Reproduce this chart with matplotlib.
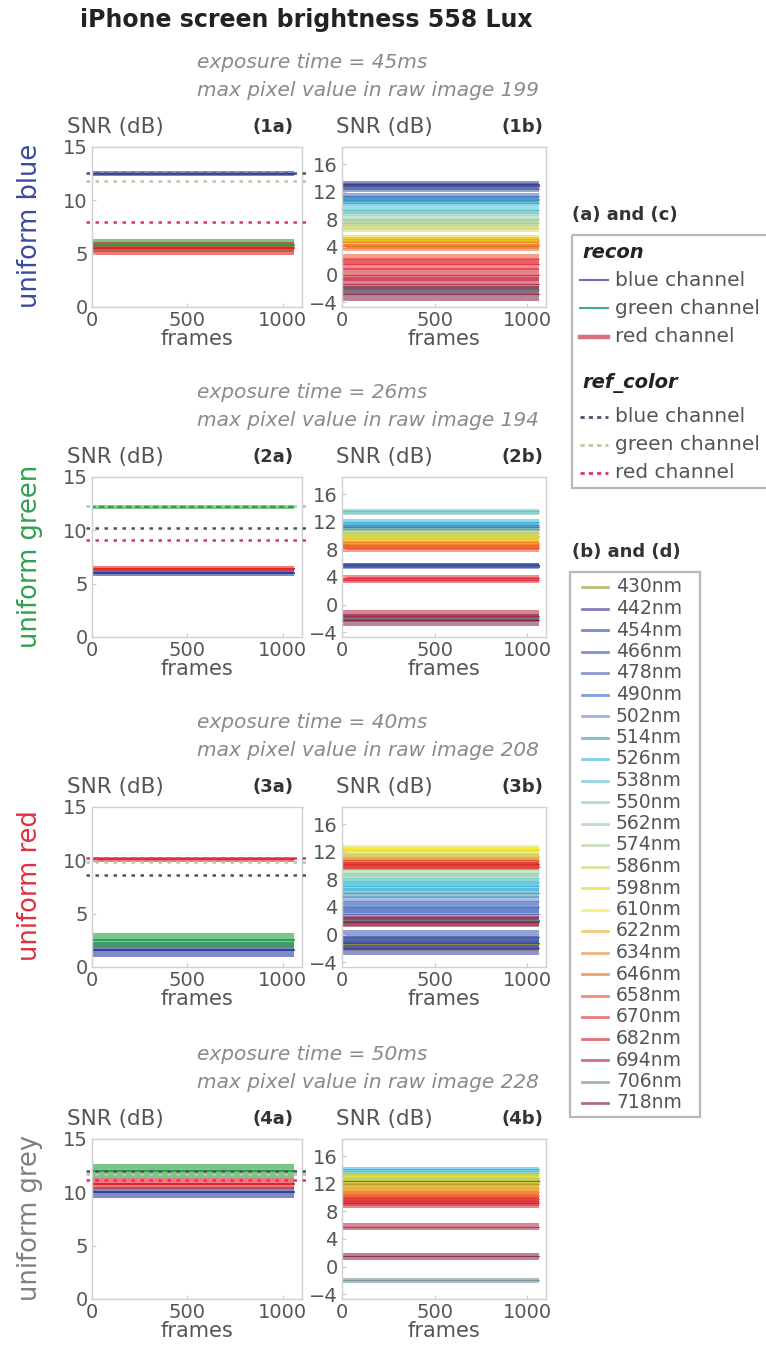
import matplotlib
matplotlib.use('Agg')
import matplotlib.pyplot as plt
from matplotlib.patches import Rectangle

W, H = 766, 1350

# recording setup for each displayed scene
scenes = ['uniform blue', 'uniform green', 'uniform red', 'uniform grey']
scene_colors = ['#3a4aa0', '#2fa050', '#e03040', '#808080']
exposure_ms = [45, 26, 40, 50]
max_pixel = [199, 194, 208, 228]

frames = [1, 1060]          # first and last frame of each recording
ref_span = [-30, 1130]      # reference levels are drawn a bit past the axes

# (a) panels: reconstructed RGB SNR (mean level and noise half-width, dB)
recon_blue = [12.5, 6.0, 1.6, 10.0]
recon_green = [5.8, 12.2, 2.5, 12.0]
recon_red = [5.5, 6.4, 10.1, 10.8]
recon_blue_spread = [0.25, 0.3, 0.7, 0.5]
recon_green_spread = [0.6, 0.2, 0.7, 0.65]
recon_red_spread = [0.6, 0.3, 0.25, 0.5]

# (a) panels: SNR of the colour reference
ref_blue = [12.6, 10.2, 8.6, 12.0]
ref_green = [11.8, 12.3, 9.8, 11.7]
ref_red = [8.0, 9.1, 10.2, 11.2]

recon_colors = ['#2a3a9a', '#20a040', '#e02020']
legend_recon_colors = ['#6a6ab8', '#40b088', '#d87080']
ref_colors = ['#505068', '#b8c8a0', '#e03070']

# (b) panels: per-wavelength SNR
wavelengths = [430, 442, 454, 466, 478, 490, 502, 514, 526, 538, 550, 562, 574,
               586, 598, 610, 622, 634, 646, 658, 670, 682, 694, 706, 718]
band_colors = ['#9a9a30', '#3a3a98', '#3848a8', '#3c58b4', '#5060b0', '#3a6cc4',
               '#6a88d0', '#3898b8', '#38b4e0', '#58c4d4', '#80ccc0', '#98d0a0',
               '#b0cc98', '#c8d470', '#e0d818', '#f0e838', '#f0b030', '#f08830',
               '#f06820', '#e85030', '#e83040', '#d82030', '#b82040', '#6a8a90',
               '#802040']

snr_blue = [12.8, 13.2, 13.0, 12.8, 12.4, 11.4, 11.0, 10.8, 10.4, 9.4, 9.0, 8.0, 7.5,
            6.8, 5.0, 4.6, 4.8, 4.4, 4.2, 2.2, 1.5, 0.0, -1.4, -2.2, -2.8]
spread_blue = [0.35, 0.35, 0.35, 0.35, 0.4, 0.45, 0.45, 0.5, 0.5, 0.55, 0.55, 0.6, 0.6,
               0.65, 0.7, 0.7, 0.7, 0.75, 0.75, 0.85, 0.9, 0.95, 1.0, 0.6, 1.1]
snr_green = [5.6, 5.8, 5.7, 5.6, 5.5, 11.2, 11.0, 11.6, 12.0, 13.5, 13.3, 10.8, 10.4,
             10.0, 9.8, 9.4, 9.0, 8.8, 8.5, 8.2, 3.9, 3.6, -1.6, -2.0, -2.2]
spread_green = [0.3, 0.3, 0.3, 0.3, 0.3, 0.4, 0.4, 0.4, 0.4, 0.35, 0.35, 0.45, 0.5,
                0.5, 0.55, 0.55, 0.6, 0.6, 0.6, 0.6, 0.4, 0.45, 0.8, 0.5, 0.9]
snr_red = [-1.4, -2.0, -1.2, -0.4, 3.0, 4.0, 4.8, 6.0, 7.0, 7.6, 8.2, 9.0, 10.6,
           11.4, 12.2, 12.5, 11.2, 10.6, 10.3, 10.0, 9.8, 10.3, 2.0, 2.1, 1.8]
spread_red = [1.0, 1.0, 1.0, 1.0, 0.8, 0.8, 0.8, 0.7, 0.7, 0.65, 0.6, 0.6, 0.55,
              0.5, 0.45, 0.45, 0.5, 0.5, 0.5, 0.5, 0.5, 0.5, 0.7, 0.4, 0.7]
snr_grey = [12.0, 12.2, 12.3, 12.4, 12.4, 12.5, 12.6, 12.8, 14.1, 13.9, 13.6, 12.9, 12.8,
            12.8, 12.6, 12.2, 11.4, 10.8, 10.3, 9.8, 9.5, 9.2, 5.8, -2.0, 1.5]
spread_grey = [0.5, 0.5, 0.5, 0.5, 0.5, 0.5, 0.5, 0.5, 0.3, 0.3, 0.3, 0.5, 0.6,
               0.7, 0.9, 0.9, 0.7, 0.7, 0.7, 0.7, 0.7, 0.7, 0.5, 0.4, 0.5]

snr_b = [snr_blue, snr_green, snr_red, snr_grey]
spread_b = [spread_blue, spread_green, spread_red, spread_grey]

row_tops = [147, 477, 807, 1139]
AX_H = 160
TICK_C = '#555555'

fig = plt.figure(figsize=(W / 100, H / 100), dpi=100)


def add_ax(x0, w, top):
    return fig.add_axes([x0 / W, 1 - (top + AX_H) / H, w / W, AX_H / H])


def style(ax, yticks, ylim):
    ax.set_xlim(0, 1100)
    ax.set_ylim(*ylim)
    ax.set_xticks([0, 500, 1000])
    ax.set_yticks(yticks)
    ax.tick_params(direction='in', length=3, color='#c8c8c8', labelcolor=TICK_C,
                   labelsize=14, pad=3)
    for s in ax.spines.values():
        s.set_color('#d0d0d0')
        s.set_linewidth(1.0)
    ax.set_xlabel('frames', fontsize=15, color=TICK_C, labelpad=-1)


for i in range(4):
    top = row_tops[i]
    axa = add_ax(92, 210, top)
    axb = add_ax(342, 204, top)

    levels = [recon_blue[i], recon_green[i], recon_red[i]]
    spreads = [recon_blue_spread[i], recon_green_spread[i], recon_red_spread[i]]
    for lev, spr, col in zip(levels, spreads, recon_colors):
        axa.fill_between(frames, [lev - spr] * 2, [lev + spr] * 2, color=col,
                         alpha=0.6, lw=0)
        axa.plot(frames, [lev, lev], color=col, lw=1.3)
    for lev, col in zip([ref_blue[i], ref_green[i], ref_red[i]], ref_colors):
        axa.plot(ref_span, [lev, lev], color=col, lw=1.8, ls=(0, (1.4, 2.2)),
                 clip_on=False, zorder=4)
    style(axa, [0, 5, 10, 15], (0, 15))

    for lev, spr, col in zip(snr_b[i], spread_b[i], band_colors):
        axb.fill_between(frames, [lev - spr] * 2, [lev + spr] * 2, color=col,
                         alpha=0.55, lw=0)
        axb.plot(frames, [lev, lev], color=col, lw=0.8, alpha=0.8)
    style(axb, [-4, 0, 4, 8, 12, 16], (-4.7, 18.5))

# overlay in pixel coordinates for titles, panel labels and legends
ov = fig.add_axes([0, 0, 1, 1])
ov.set_xlim(0, W)
ov.set_ylim(H, 0)
ov.axis('off')

ov.text(306, 20, 'iPhone screen brightness 558 Lux', ha='center', va='center',
        fontsize=17, weight='bold', color='#222222')

for i in range(4):
    top = row_tops[i]
    ov.text(197, top - 84, f'exposure time = {exposure_ms[i]}ms', ha='left',
            va='center', fontsize=14.5, style='italic', color='#8a8a8a')
    ov.text(197, top - 56, f'max pixel value in raw image {max_pixel[i]}', ha='left',
            va='center', fontsize=14.5, style='italic', color='#8a8a8a')
    ov.text(67, top - 20, 'SNR (dB)', ha='left', va='center', fontsize=15.5, color=TICK_C)
    ov.text(336, top - 20, 'SNR (dB)', ha='left', va='center', fontsize=15.5, color=TICK_C)
    ov.text(294, top - 20, f'({i + 1}a)', ha='right', va='center', fontsize=13,
            weight='bold', color='#333333')
    ov.text(543, top - 20, f'({i + 1}b)', ha='right', va='center', fontsize=13,
            weight='bold', color='#333333')
    ov.text(30, top + 79, scenes[i], rotation=90, ha='center', va='center',
            fontsize=18.5, color=scene_colors[i])

# legend for the (a) panels
ov.text(572, 215, '(a) and (c)', ha='left', va='center', fontsize=13, weight='bold',
        color='#333333')
ov.add_patch(Rectangle((572, 235), 230, 253, fill=False, ec='#b8b8b8', lw=1.6,
                       clip_on=False))
channel_names = ['blue channel', 'green channel', 'red channel']
ov.text(582, 252, 'recon', ha='left', va='center', fontsize=14, weight='bold',
        style='italic', color='#222222')
for y, col, lw, name in zip([280, 308, 337], legend_recon_colors, [1.5, 1.5, 3.2],
                            channel_names):
    ov.plot([580, 608], [y, y], color=col, lw=lw)
    ov.text(615, y, name, ha='left', va='center', fontsize=14.5, color=TICK_C)
ov.text(582, 383, 'ref_color', ha='left', va='center', fontsize=14, weight='bold',
        style='italic', color='#222222')
for y, col, name in zip([417, 445, 473], ref_colors, channel_names):
    ov.plot([580, 608], [y, y], color=col, lw=2, ls=(0, (1.5, 1.5)))
    ov.text(615, y, name, ha='left', va='center', fontsize=14.5, color=TICK_C)

# legend for the (b) panels
ov.text(572, 552, '(b) and (d)', ha='left', va='center', fontsize=13, weight='bold',
        color='#333333')
ov.add_patch(Rectangle((570, 572), 130, 545, fill=False, ec='#b8b8b8', lw=1.6))
for k, (wl, col) in enumerate(zip(wavelengths, band_colors)):
    y = 587 + 21.5 * k
    ov.plot([582, 608], [y, y], color=col, lw=2, alpha=0.65)
    ov.text(616, y, f'{wl}nm', ha='left', va='center', fontsize=13.5, color=TICK_C)

fig.savefig('out.png', dpi=100)
